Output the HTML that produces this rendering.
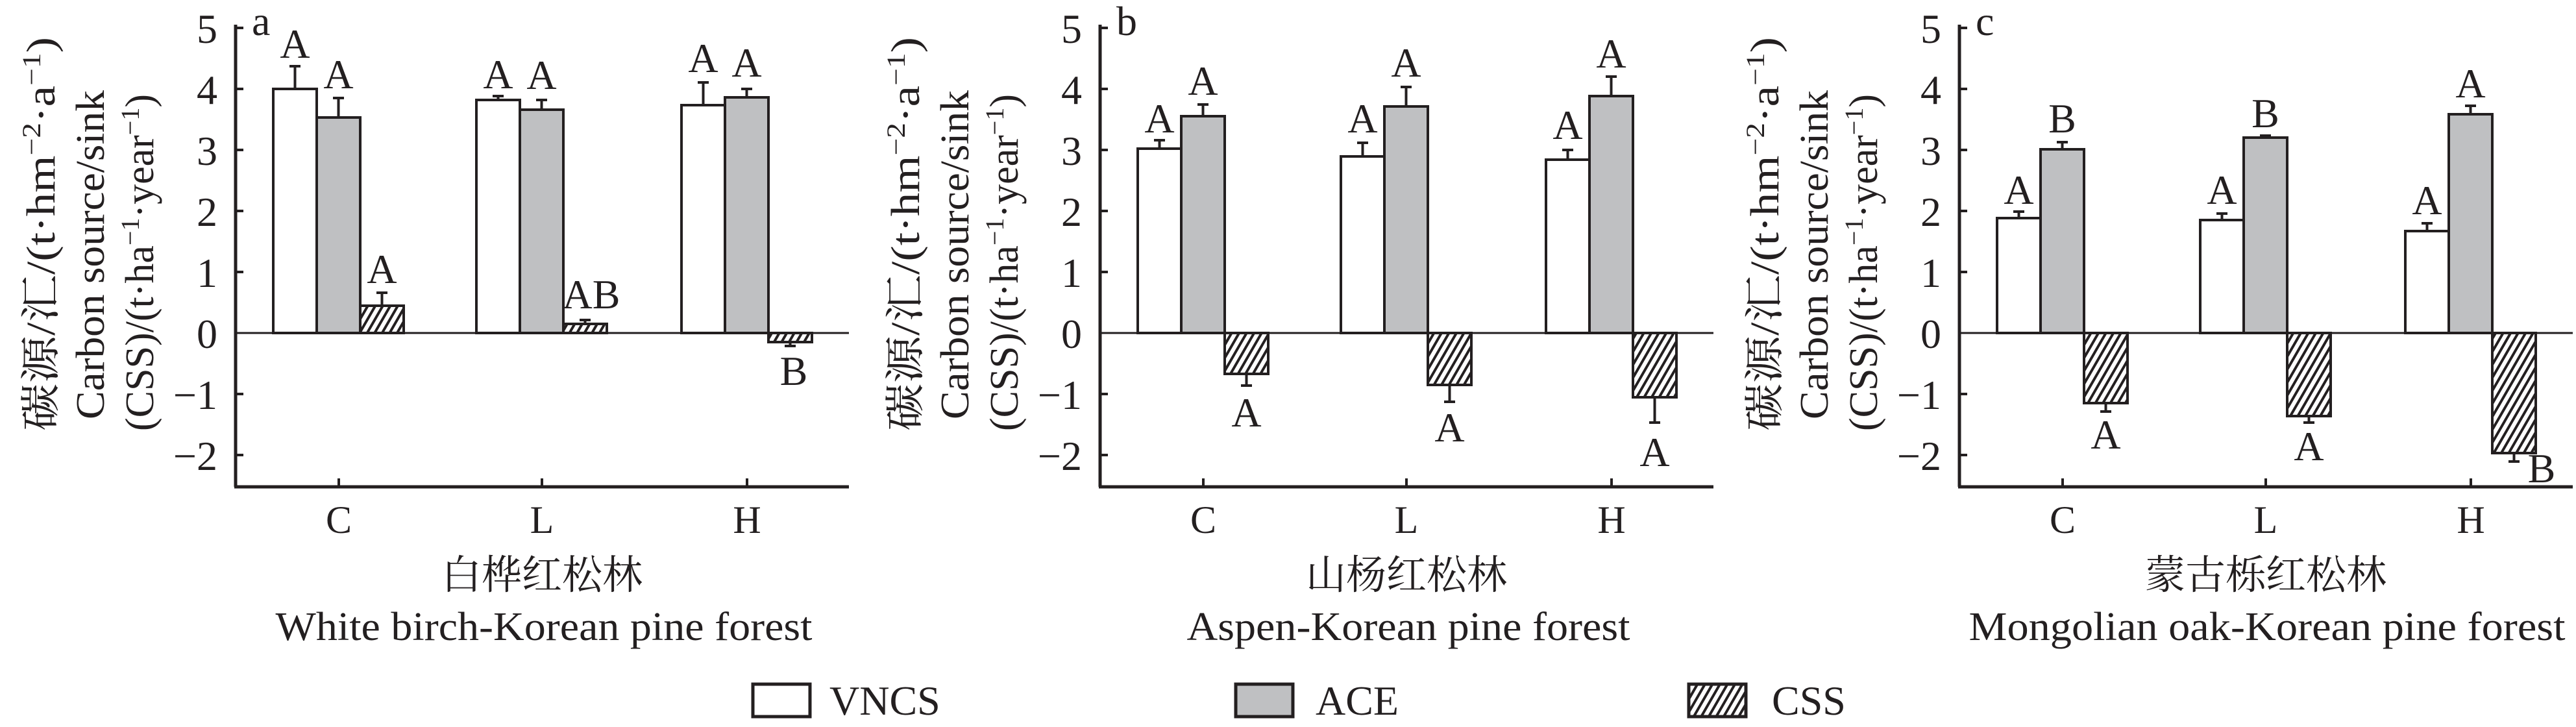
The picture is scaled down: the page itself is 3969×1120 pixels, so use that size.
<!DOCTYPE html>
<html><head><meta charset="utf-8"><style>
html,body{margin:0;padding:0;background:#fff;}
svg{display:block}
text{font-family:"Liberation Serif","Noto Serif CJK SC",serif;fill:#231f20}
.cjk{font-family:"Liberation Serif","Noto Serif CJK SC","Noto Sans CJK SC",serif}
</style></head><body>
<svg width="3969" height="1120" viewBox="0 0 3969 1120" xmlns="http://www.w3.org/2000/svg">
<defs>
<pattern id="h" patternUnits="userSpaceOnUse" width="10" height="10" patternTransform="rotate(30)">
<rect width="10" height="10" fill="#fff"/><rect x="0" y="0" width="4" height="10" fill="#231f20"/>
</pattern>
</defs>

<!-- Panel a -->
<g transform="translate(363,0)">
<line x1="0" y1="38" x2="0" y2="750" stroke="#231f20" stroke-width="5"/>
<line x1="-2" y1="750" x2="945" y2="750" stroke="#231f20" stroke-width="5"/>
<line x1="0" y1="513" x2="945" y2="513" stroke="#231f20" stroke-width="3"/>
<g stroke="#231f20" stroke-width="4">
<line x1="0" y1="43" x2="12" y2="43"/><line x1="0" y1="137" x2="12" y2="137"/><line x1="0" y1="231" x2="12" y2="231"/><line x1="0" y1="325" x2="12" y2="325"/><line x1="0" y1="419" x2="12" y2="419"/><line x1="0" y1="607" x2="12" y2="607"/><line x1="0" y1="701" x2="12" y2="701"/>
<line x1="159" y1="750" x2="159" y2="737"/><line x1="472" y1="750" x2="472" y2="737"/><line x1="788" y1="750" x2="788" y2="737"/>
</g>
<g font-size="64" text-anchor="end">
<text x="-28" y="66">5</text><text x="-28" y="160">4</text><text x="-28" y="254">3</text><text x="-28" y="348">2</text><text x="-28" y="442">1</text><text x="-28" y="536">0</text><text x="-28" y="630">−1</text><text x="-28" y="724">−2</text>
</g>
<g font-size="60" text-anchor="middle">
<text x="159" y="821">C</text><text x="472" y="821">L</text><text x="788" y="821">H</text>
</g>
<g font-size="62" transform="rotate(-90)">
<text x="-664" y="-279" textLength="607" lengthAdjust="spacingAndGlyphs">碳源/汇/(t·hm<tspan font-size="40" dy="-22">−2</tspan><tspan dy="22">·a</tspan><tspan font-size="40" dy="-22">−1</tspan><tspan dy="22">)</tspan></text>
<text x="-646" y="-203" textLength="507" lengthAdjust="spacingAndGlyphs">Carbon source/sink</text>
<text x="-664" y="-127">(CSS)/(t·ha<tspan font-size="40" dy="-22">−1</tspan><tspan dy="22">·year</tspan><tspan font-size="40" dy="-22">−1</tspan><tspan dy="22">)</tspan></text>
</g>
<text x="25" y="54" font-size="64">a</text>
<g stroke="#231f20" stroke-width="4">
<rect x="58" y="137" width="67" height="376" fill="#fff"/><rect x="125" y="181" width="67" height="332" fill="#bfc0c2"/><rect x="192" y="471" width="67" height="42" fill="url(#h)"/>
<rect x="371" y="154" width="67" height="359" fill="#fff"/><rect x="438" y="169" width="67" height="344" fill="#bfc0c2"/><rect x="505" y="499" width="67" height="14" fill="url(#h)"/>
<rect x="687" y="162" width="67" height="351" fill="#fff"/><rect x="754" y="150" width="67" height="363" fill="#bfc0c2"/><rect x="821" y="513" width="67" height="14" fill="url(#h)"/>
<path d="M91.5 137V102M83 102H100 M158.5 181V151M150 151H167 M225.5 471V451M217 451H234 M404.5 154V148M396 148H413 M471.5 169V154M463 154H480 M538.5 499V493M530 493H547 M720.5 162V127M712 127H729 M787.5 150V137M779 137H796 M854.5 527V533M846 533H863" fill="none"/>
</g>
<g font-size="64" text-anchor="middle">
<text x="91.5" y="89">A</text><text x="158.5" y="136">A</text><text x="225.5" y="436">A</text>
<text x="404.5" y="136">A</text><text x="471.5" y="137">A</text><text x="548" y="475">AB</text>
<text x="720.5" y="111">A</text><text x="787.5" y="118">A</text><text x="860" y="593">B</text>
</g>
<text x="472" y="907" font-size="62" text-anchor="middle" class="cjk">白桦红松林</text>
<text x="475" y="986" font-size="62" text-anchor="middle" textLength="827" lengthAdjust="spacingAndGlyphs">White birch-Korean pine forest</text>
</g>

<!-- Panel b -->
<g transform="translate(1695,0)">
<line x1="0" y1="38" x2="0" y2="750" stroke="#231f20" stroke-width="5"/>
<line x1="-2" y1="750" x2="945" y2="750" stroke="#231f20" stroke-width="5"/>
<line x1="0" y1="513" x2="945" y2="513" stroke="#231f20" stroke-width="3"/>
<g stroke="#231f20" stroke-width="4">
<line x1="0" y1="43" x2="12" y2="43"/><line x1="0" y1="137" x2="12" y2="137"/><line x1="0" y1="231" x2="12" y2="231"/><line x1="0" y1="325" x2="12" y2="325"/><line x1="0" y1="419" x2="12" y2="419"/><line x1="0" y1="607" x2="12" y2="607"/><line x1="0" y1="701" x2="12" y2="701"/>
<line x1="159" y1="750" x2="159" y2="737"/><line x1="472" y1="750" x2="472" y2="737"/><line x1="788" y1="750" x2="788" y2="737"/>
</g>
<g font-size="64" text-anchor="end">
<text x="-28" y="66">5</text><text x="-28" y="160">4</text><text x="-28" y="254">3</text><text x="-28" y="348">2</text><text x="-28" y="442">1</text><text x="-28" y="536">0</text><text x="-28" y="630">−1</text><text x="-28" y="724">−2</text>
</g>
<g font-size="60" text-anchor="middle">
<text x="159" y="821">C</text><text x="472" y="821">L</text><text x="788" y="821">H</text>
</g>
<g font-size="62" transform="rotate(-90)">
<text x="-664" y="-279" textLength="607" lengthAdjust="spacingAndGlyphs">碳源/汇/(t·hm<tspan font-size="40" dy="-22">−2</tspan><tspan dy="22">·a</tspan><tspan font-size="40" dy="-22">−1</tspan><tspan dy="22">)</tspan></text>
<text x="-646" y="-203" textLength="507" lengthAdjust="spacingAndGlyphs">Carbon source/sink</text>
<text x="-664" y="-127">(CSS)/(t·ha<tspan font-size="40" dy="-22">−1</tspan><tspan dy="22">·year</tspan><tspan font-size="40" dy="-22">−1</tspan><tspan dy="22">)</tspan></text>
</g>
<text x="25" y="54" font-size="64">b</text>
<g stroke="#231f20" stroke-width="4">
<rect x="58" y="229" width="67" height="284" fill="#fff"/><rect x="125" y="179" width="67" height="334" fill="#bfc0c2"/><rect x="192" y="513" width="67" height="63" fill="url(#h)"/>
<rect x="371" y="241" width="67" height="272" fill="#fff"/><rect x="438" y="164" width="67" height="349" fill="#bfc0c2"/><rect x="505" y="513" width="67" height="80" fill="url(#h)"/>
<rect x="687" y="246" width="67" height="267" fill="#fff"/><rect x="754" y="148" width="67" height="365" fill="#bfc0c2"/><rect x="821" y="513" width="67" height="99" fill="url(#h)"/>
<path d="M91.5 229V216M83 216H100 M158.5 179V161M150 161H167 M225.5 576V594M217 594H234 M404.5 241V220M396 220H413 M471.5 164V134M463 134H480 M538.5 593V619M530 619H547 M720.5 246V231M712 231H729 M787.5 148V118M779 118H796 M854.5 612V651M846 651H863" fill="none"/>
</g>
<g font-size="64" text-anchor="middle">
<text x="91.5" y="204">A</text><text x="158.5" y="146">A</text><text x="225.5" y="657">A</text>
<text x="404.5" y="204">A</text><text x="471.5" y="118">A</text><text x="538.5" y="680">A</text>
<text x="720.5" y="214">A</text><text x="787.5" y="104">A</text><text x="854.5" y="718">A</text>
</g>
<text x="472" y="907" font-size="62" text-anchor="middle" class="cjk">山杨红松林</text>
<text x="475" y="986" font-size="62" text-anchor="middle" textLength="683" lengthAdjust="spacingAndGlyphs">Aspen-Korean pine forest</text>
</g>

<!-- Panel c -->
<g transform="translate(3019,0)">
<line x1="0" y1="38" x2="0" y2="750" stroke="#231f20" stroke-width="5"/>
<line x1="-2" y1="750" x2="945" y2="750" stroke="#231f20" stroke-width="5"/>
<line x1="0" y1="513" x2="945" y2="513" stroke="#231f20" stroke-width="3"/>
<g stroke="#231f20" stroke-width="4">
<line x1="0" y1="43" x2="12" y2="43"/><line x1="0" y1="137" x2="12" y2="137"/><line x1="0" y1="231" x2="12" y2="231"/><line x1="0" y1="325" x2="12" y2="325"/><line x1="0" y1="419" x2="12" y2="419"/><line x1="0" y1="607" x2="12" y2="607"/><line x1="0" y1="701" x2="12" y2="701"/>
<line x1="159" y1="750" x2="159" y2="737"/><line x1="472" y1="750" x2="472" y2="737"/><line x1="788" y1="750" x2="788" y2="737"/>
</g>
<g font-size="64" text-anchor="end">
<text x="-28" y="66">5</text><text x="-28" y="160">4</text><text x="-28" y="254">3</text><text x="-28" y="348">2</text><text x="-28" y="442">1</text><text x="-28" y="536">0</text><text x="-28" y="630">−1</text><text x="-28" y="724">−2</text>
</g>
<g font-size="60" text-anchor="middle">
<text x="159" y="821">C</text><text x="472" y="821">L</text><text x="788" y="821">H</text>
</g>
<g font-size="62" transform="rotate(-90)">
<text x="-664" y="-279" textLength="607" lengthAdjust="spacingAndGlyphs">碳源/汇/(t·hm<tspan font-size="40" dy="-22">−2</tspan><tspan dy="22">·a</tspan><tspan font-size="40" dy="-22">−1</tspan><tspan dy="22">)</tspan></text>
<text x="-646" y="-203" textLength="507" lengthAdjust="spacingAndGlyphs">Carbon source/sink</text>
<text x="-664" y="-127">(CSS)/(t·ha<tspan font-size="40" dy="-22">−1</tspan><tspan dy="22">·year</tspan><tspan font-size="40" dy="-22">−1</tspan><tspan dy="22">)</tspan></text>
</g>
<text x="25" y="54" font-size="64">c</text>
<g stroke="#231f20" stroke-width="4">
<rect x="58" y="336" width="67" height="177" fill="#fff"/><rect x="125" y="230" width="67" height="283" fill="#bfc0c2"/><rect x="192" y="513" width="67" height="108" fill="url(#h)"/>
<rect x="371" y="339" width="67" height="174" fill="#fff"/><rect x="438" y="212" width="67" height="301" fill="#bfc0c2"/><rect x="505" y="513" width="67" height="128" fill="url(#h)"/>
<rect x="687" y="356" width="67" height="157" fill="#fff"/><rect x="754" y="176" width="67" height="337" fill="#bfc0c2"/><rect x="821" y="513" width="67" height="185" fill="url(#h)"/>
<path d="M91.5 336V326M83 326H100 M158.5 230V219M150 219H167 M225.5 621V634M217 634H234 M404.5 339V329M396 329H413 M471.5 212V209M463 209H480 M538.5 641V651M530 651H547 M720.5 356V344M712 344H729 M787.5 176V163M779 163H796 M854.5 698V711M846 711H863" fill="none"/>
</g>
<g font-size="64" text-anchor="middle">
<text x="91.5" y="314">A</text><text x="158.5" y="204">B</text><text x="225.5" y="691">A</text>
<text x="404.5" y="314">A</text><text x="471.5" y="196">B</text><text x="538.5" y="709">A</text>
<text x="720.5" y="330">A</text><text x="787.5" y="150">A</text><text x="897" y="743">B</text>
</g>
<text x="472" y="907" font-size="62" text-anchor="middle" class="cjk">蒙古栎红松林</text>
<text x="474" y="986" font-size="62" text-anchor="middle" textLength="919" lengthAdjust="spacingAndGlyphs">Mongolian oak-Korean pine forest</text>
</g>

<!-- Legend -->
<g stroke="#231f20" stroke-width="5">
<rect x="1160" y="1054" width="88" height="50" fill="#fff"/>
<rect x="1904" y="1054" width="88" height="50" fill="#bfc0c2"/>
<rect x="2602" y="1054" width="88" height="50" fill="url(#h)"/>
</g>
<g font-size="64">
<text x="1278" y="1101">VNCS</text>
<text x="2027" y="1101">ACE</text>
<text x="2730" y="1101">CSS</text>
</g>
</svg>
</body></html>
